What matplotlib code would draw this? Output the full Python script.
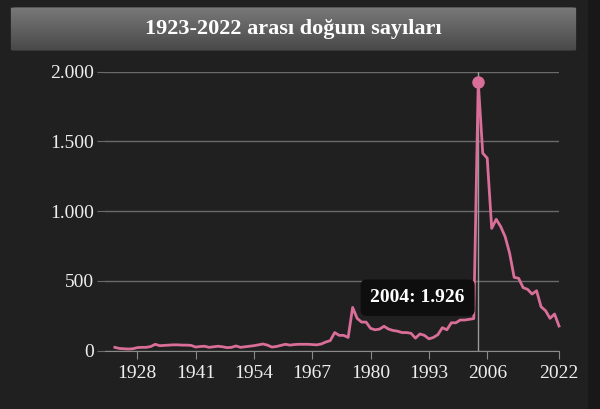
import matplotlib.pyplot as plt
from matplotlib.patches import FancyBboxPatch, Rectangle
from matplotlib.colors import LinearSegmentedColormap
import numpy as np

years = list(range(1923, 2023))
births = [24, 16, 14, 12, 14, 22, 24, 24, 30, 46,
          36, 38, 40, 42, 42, 40, 40, 38, 26, 30,
          32, 24, 28, 32, 28, 22, 24, 34, 24, 28,
          32, 36, 42, 48, 40, 26, 30, 38, 46, 40,
          44, 46, 46, 46, 44, 42, 48, 62, 72, 130,
          110, 110, 95, 310, 232, 205, 205, 160, 150, 155,
          175, 155, 145, 140, 130, 130, 125, 90, 120, 110,
          85, 95, 115, 165, 150, 200, 200, 220, 220, 225,
          230, 1926, 1416, 1380, 877, 942, 890, 817, 698, 526,
          519, 452, 440, 406, 430, 315, 287, 232, 263, 177]
xticks = [1928, 1941, 1954, 1967, 1980, 1993, 2006, 2022]
yticks = [0, 500, 1000, 1500, 2000]
ylabels = ['0', '500', '1.000', '1.500', '2.000']
title = '1923-2022 arası doğum sayıları'
peak_year, peak_val = 2004, 1926

plt.rcParams['font.family'] = ['Liberation Serif', 'DejaVu Serif']
fig = plt.figure(figsize=(6, 4.09), dpi=100, facecolor='#202020')
W, H = 600, 409

def fx(px): return px / W
def fy(py): return 1 - py / H

# dark strip outside the card
fig.patches.append(Rectangle((fx(588), 0), 1 - fx(588), 1, transform=fig.transFigure,
                             facecolor='#181818', edgecolor='none', zorder=-5))
# title bar with gradient
grad = np.linspace(1, 0, 64).reshape(-1, 1)
tax = fig.add_axes([fx(8), fy(52), fx(571), fy(6) - fy(52)])
tax.imshow(grad, aspect='auto', cmap=LinearSegmentedColormap.from_list(
    'g', ['#474747', '#7a7a7a']), extent=[0, 1, 0, 1])
tax.set_xlim(0, 1)
tax.set_ylim(0, 1)
clip = FancyBboxPatch((0.005, 0.03), 0.99, 0.94, boxstyle='round,pad=0,rounding_size=0.012',
                      transform=tax.transAxes, facecolor='none', edgecolor='none')
tax.add_patch(clip)
tax.images[0].set_clip_path(clip)
tax.axis('off')
tax.text(0.5, 0.5, title, ha='center', va='center', color='white', fontsize=16,
         fontweight='bold', transform=tax.transAxes)

ax = fig.add_axes([fx(105), fy(350.7), fx(559) - fx(105), fy(71.7) - fy(350.7)])
ax.set_facecolor('#202020')
ax.set_xlim(1920.8, 2022)
ax.set_ylim(0, 2000)
ax.plot(years, births, color='#d96e98', lw=2, clip_on=False, zorder=3)
ax.axvline(peak_year, color='#9a9a9a', lw=1, zorder=2)
ax.plot([peak_year], [peak_val], 'o', color='#d96e98', ms=8, zorder=4, clip_on=False)
ax.set_yticks(yticks)
ax.set_yticklabels(ylabels)
ax.set_xticks(xticks)
ax.grid(axis='y', color='#6a6a6a', lw=1)
for s in ['top', 'right', 'left']:
    ax.spines[s].set_visible(False)
ax.spines['bottom'].set_color('#8a8a8a')
ax.tick_params(axis='x', colors='#8a8a8a', labelcolor='#eeeeee', labelsize=14, length=6, pad=4)
ax.tick_params(axis='y', colors='#6a6a6a', labelcolor='#eeeeee', labelsize=14, length=6, pad=2)
ax.set_axisbelow(True)

ax.text(peak_year - 13.5, 380, f'{peak_year}: 1.926', ha='center', va='center', color='white',
        fontsize=14, fontweight='bold', zorder=6,
        bbox=dict(boxstyle='round,pad=0.5,rounding_size=0.3', facecolor='#0e0e0e', edgecolor='none'))

fig.savefig('out.png', dpi=100, facecolor=fig.get_facecolor())
